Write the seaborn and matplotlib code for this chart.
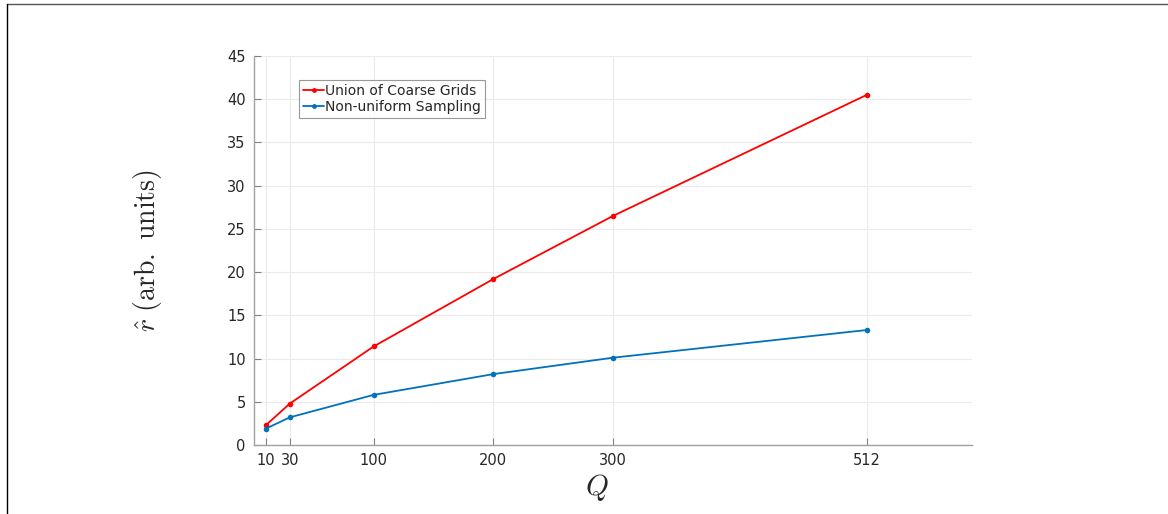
import matplotlib
matplotlib.use("Agg")
import matplotlib.pyplot as plt
import seaborn as sns
import pandas as pd
from matplotlib.lines import Line2D

# Q values and estimated r-hat for each method
q_values = [10, 30, 100, 200, 300, 512]
union_coarse = [2.3, 4.8, 11.4, 19.2, 26.5, 40.5]
nonuniform = [1.9, 3.2, 5.8, 8.2, 10.1, 13.3]
x_ticks = [10, 30, 100, 200, 300, 512]
y_ticks = [0, 5, 10, 15, 20, 25, 30, 35, 40, 45]

series_names = ["Union of Coarse Grids", "Non-uniform Sampling"]
df = pd.DataFrame({
    "Q": q_values * 2,
    "r": union_coarse + nonuniform,
    "method": [series_names[0]] * len(q_values) + [series_names[1]] * len(q_values),
})

sns.set_theme(style="white")
plt.rcParams["font.family"] = ["DejaVu Sans"]
plt.rcParams["mathtext.fontset"] = "cm"

fig = plt.figure(figsize=(11.68, 5.14), dpi=100)
ax = fig.add_axes([254 / 1168, 1 - 445 / 514, (972 - 254) / 1168, (445 - 56) / 514])

palette = {series_names[0]: "#ff0000", series_names[1]: "#0072bd"}
sns.lineplot(data=df, x="Q", y="r", hue="method", palette=palette, marker="o",
             markersize=4, markeredgewidth=0, linewidth=1.3, ax=ax, legend=False)

ax.set_xlim(0, 600)
ax.set_ylim(0, 45)
ax.set_xticks(x_ticks)
ax.set_yticks(y_ticks)
ax.grid(True, color="#ebebeb", linewidth=0.8)
ax.set_axisbelow(True)
for side in ["top", "right"]:
    ax.spines[side].set_visible(False)
for side in ["left", "bottom"]:
    ax.spines[side].set_color("#a0a0a0")
    ax.spines[side].set_linewidth(1.0)
ax.tick_params(direction="in", length=5, width=0.8, color="#808080",
               labelsize=10.5, labelcolor="#262626", pad=6)
ax.tick_params(axis="both", which="both", bottom=True, left=True)

ax.set_xlabel(r"$Q$", fontsize=21, labelpad=0)
ax.xaxis.set_label_coords((597 - 254) / 718, -0.07, transform=ax.transAxes)
ax.xaxis.label.set_verticalalignment("top")
ax.set_ylabel(r"$\hat{r}\ \mathrm{(arb.\ units)}$", fontsize=20, labelpad=45)

handles = [Line2D([], [], color=palette[n], marker="o", markersize=3.5,
                  markeredgewidth=0, linewidth=1.3) for n in series_names]
leg = ax.legend(handles, series_names, loc="upper left",
                bbox_to_anchor=(45 / 718, 1 - 24 / 389), fontsize=10,
                frameon=True, fancybox=False, handlelength=1.5,
                handletextpad=0.1, borderpad=0.3, labelspacing=0.1,
                borderaxespad=0)
leg.get_frame().set_edgecolor("#7f7f7f")
leg.get_frame().set_linewidth(0.8)

# thin frame along the top and left edges of the figure
fig.add_artist(Line2D([7 / 1168, 1], [1 - 4 / 514, 1 - 4 / 514],
                      transform=fig.transFigure, color="#555555", linewidth=1.0))
fig.add_artist(Line2D([7 / 1168, 7 / 1168], [0, 1 - 4 / 514],
                      transform=fig.transFigure, color="#000000", linewidth=1.0))

fig.savefig("out.png", dpi=100)
